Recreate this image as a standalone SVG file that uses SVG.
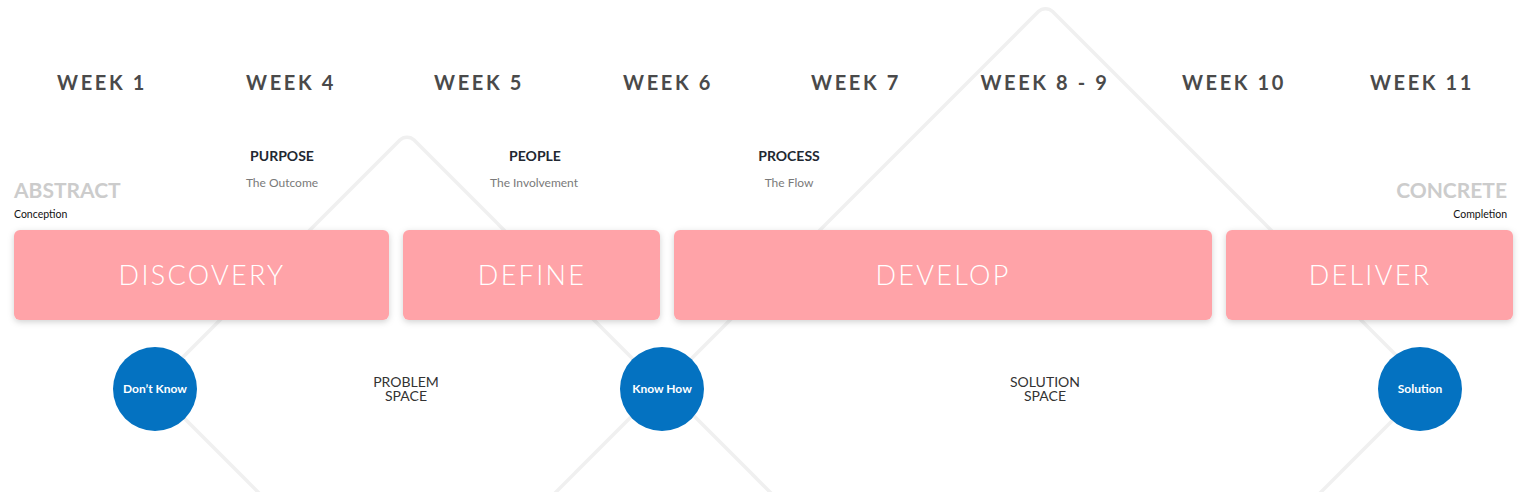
<svg xmlns="http://www.w3.org/2000/svg" width="1528" height="492" viewBox="0 0 1528 492">
<style>
.week{font-family:Lato,"Liberation Sans",sans-serif;font-weight:700;font-size:20px;letter-spacing:2.6px;fill:#4a4a4a;text-anchor:middle}
.head{font-family:Lato,"Liberation Sans",sans-serif;font-weight:700;font-size:14px;fill:#222831;text-anchor:middle}
.sub{font-family:Lato,"Liberation Sans",sans-serif;font-size:12px;fill:#7a7a7a;text-anchor:middle}
.end{font-family:Lato,"Liberation Sans",sans-serif;font-weight:700;font-size:21px;fill:#cccccc}
.endsub{font-family:Lato,"Liberation Sans",sans-serif;font-size:10.5px;fill:#111}
.box{fill:#ffa3a8;filter:url(#sh)}
.boxt{font-family:Lato,"Liberation Sans",sans-serif;font-weight:300;font-size:27px;letter-spacing:2.3px;fill:#fff;text-anchor:middle}
.circ{fill:#0472c1}
.ct{font-family:Lato,"Liberation Sans",sans-serif;font-weight:700;font-size:12px;fill:#fff;text-anchor:middle}
.space{font-family:Lato,"Liberation Sans",sans-serif;font-size:14px;fill:#333;text-anchor:middle}
.dia{fill:none;stroke:#f0f0f0;stroke-width:3.5;stroke-linejoin:round}
</style>
<defs>
<filter id="sh" x="-10%" y="-20%" width="120%" height="150%">
<feDropShadow dx="0" dy="2" stdDeviation="3" flood-color="#000" flood-opacity="0.18"/>
</filter>
</defs>
<rect width="1528" height="492" fill="#fff"/>
<g id="connectors">
<rect class="dia" x="227.39" y="207.39" width="359.21" height="359.21" rx="10" transform="rotate(45 407 387)"/>
<rect class="dia" x="775.74" y="116.24" width="539.52" height="539.52" rx="10" transform="rotate(45 1045.5 386)"/>
</g>
<g id="weeks">
<text class="week" x="102" y="90">WEEK 1</text>
<text class="week" x="291" y="90">WEEK 4</text>
<text class="week" x="479" y="90">WEEK 5</text>
<text class="week" x="668" y="90">WEEK 6</text>
<text class="week" x="856" y="90">WEEK 7</text>
<text class="week" x="1045" y="90">WEEK 8 - 9</text>
<text class="week" x="1234" y="90">WEEK 10</text>
<text class="week" x="1422" y="90">WEEK 11</text>
</g>
<g id="purpose"><text class="head" x="282" y="161">PURPOSE</text><text class="sub" x="282" y="187">The Outcome</text></g>
<g id="people"><text class="head" x="535" y="161">PEOPLE</text><text class="sub" x="534" y="187">The Involvement</text></g>
<g id="process"><text class="head" x="789" y="161">PROCESS</text><text class="sub" x="789" y="187">The Flow</text></g>
<g id="abstract"><text class="end" x="14" y="198">ABSTRACT</text><text class="endsub" x="14" y="218">Conception</text></g>
<g id="concrete"><text class="end" x="1507" y="198" text-anchor="end">CONCRETE</text><text class="endsub" x="1507" y="218" text-anchor="end">Completion</text></g>
<g id="discovery"><rect class="box" x="14" y="230" width="375" height="90" rx="6"/><text class="boxt" x="202" y="285">DISCOVERY</text></g>
<g id="define"><rect class="box" x="403" y="230" width="257" height="90" rx="6"/><text class="boxt" x="532" y="285">DEFINE</text></g>
<g id="develop"><rect class="box" x="674" y="230" width="538" height="90" rx="6"/><text class="boxt" x="943" y="285">DEVELOP</text></g>
<g id="deliver"><rect class="box" x="1226" y="230" width="287" height="90" rx="6"/><text class="boxt" x="1370" y="285">DELIVER</text></g>
<g id="dontknow"><circle class="circ" cx="155" cy="389" r="42"/><text class="ct" x="155" y="393">Don’t Know</text></g>
<g id="knowhow"><circle class="circ" cx="662" cy="389" r="42"/><text class="ct" x="662" y="393">Know How</text></g>
<g id="solution"><circle class="circ" cx="1420" cy="389" r="42"/><text class="ct" x="1420" y="393">Solution</text></g>
<g id="problem"><text class="space" x="406" y="387">PROBLEM</text><text class="space" x="406" y="401">SPACE</text></g>
<g id="solspace"><text class="space" x="1045" y="387">SOLUTION</text><text class="space" x="1045" y="401">SPACE</text></g>
</svg>
